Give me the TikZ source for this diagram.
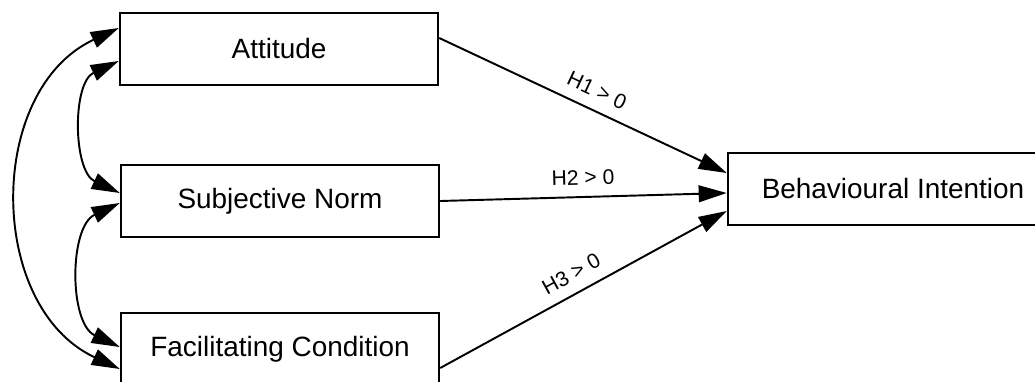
\documentclass[tikz,border=0pt]{standalone}
\usepackage{fontspec}
\setmainfont{Liberation Sans}
\usepackage{tikz}
\usetikzlibrary{positioning, arrows.meta}

\begin{document}
\begin{tikzpicture}[
      box/.style={rectangle, draw, line width=1.4pt,
                  minimum width=6.36cm, minimum height=1.44cm,
                  align=center, font=\fontsize{15.9}{19}\selectfont},
      hyp/.style={-{Triangle[length=16pt, width=9.5pt]}, line width=1.1pt},
      cov/.style={{Triangle[length=16pt, width=9.5pt]}-{Triangle[length=16pt, width=9.5pt]}, line width=1.1pt},
      lab/.style={above=3pt, sloped, font=\fontsize{12}{14}\selectfont}
    ]
    \useasboundingbox (0,0) rectangle (20.7,-7.62);
    \clip (0,0) rectangle (20.7,-7.62);

    % Boxes
    \node[box] (A)  at (5.58,-0.98)  {Attitude};
    \node[box] (SN) at (5.60,-4.02)  {Subjective Norm};
    \node[box] (FC) at (5.60,-6.98)  {Facilitating Condition};
    \node[box, minimum width=6.6cm] (BI) at (17.86,-3.78) {Behavioural Intention};

    % Hypotheses
    \draw[hyp] ([yshift=0.22cm]A.east) -- node[lab, pos=0.52] {H1 > 0} ([yshift=0.32cm]BI.west);
    \draw[hyp] (SN.east) -- node[lab, pos=0.5] {H2 > 0} ([yshift=-0.08cm]BI.west);
    \draw[hyp] ([yshift=-0.38cm]FC.east) -- node[lab, pos=0.49] {H3 > 0} ([yshift=-0.44cm]BI.west);

    % Correlations
    \draw[cov] ([yshift=-0.24cm]A.west) to[out=-155, in=155, looseness=1.0] ([yshift=0.16cm]SN.west);
    \draw[cov] ([yshift=-0.04cm]SN.west) to[out=-155, in=155, looseness=1.0] ([yshift=0.04cm]FC.west);
    \draw[cov] ([yshift=0.42cm]A.west) to[out=-155, in=155, looseness=1.1] ([yshift=-0.40cm]FC.west);
  \end{tikzpicture}
\end{document}
